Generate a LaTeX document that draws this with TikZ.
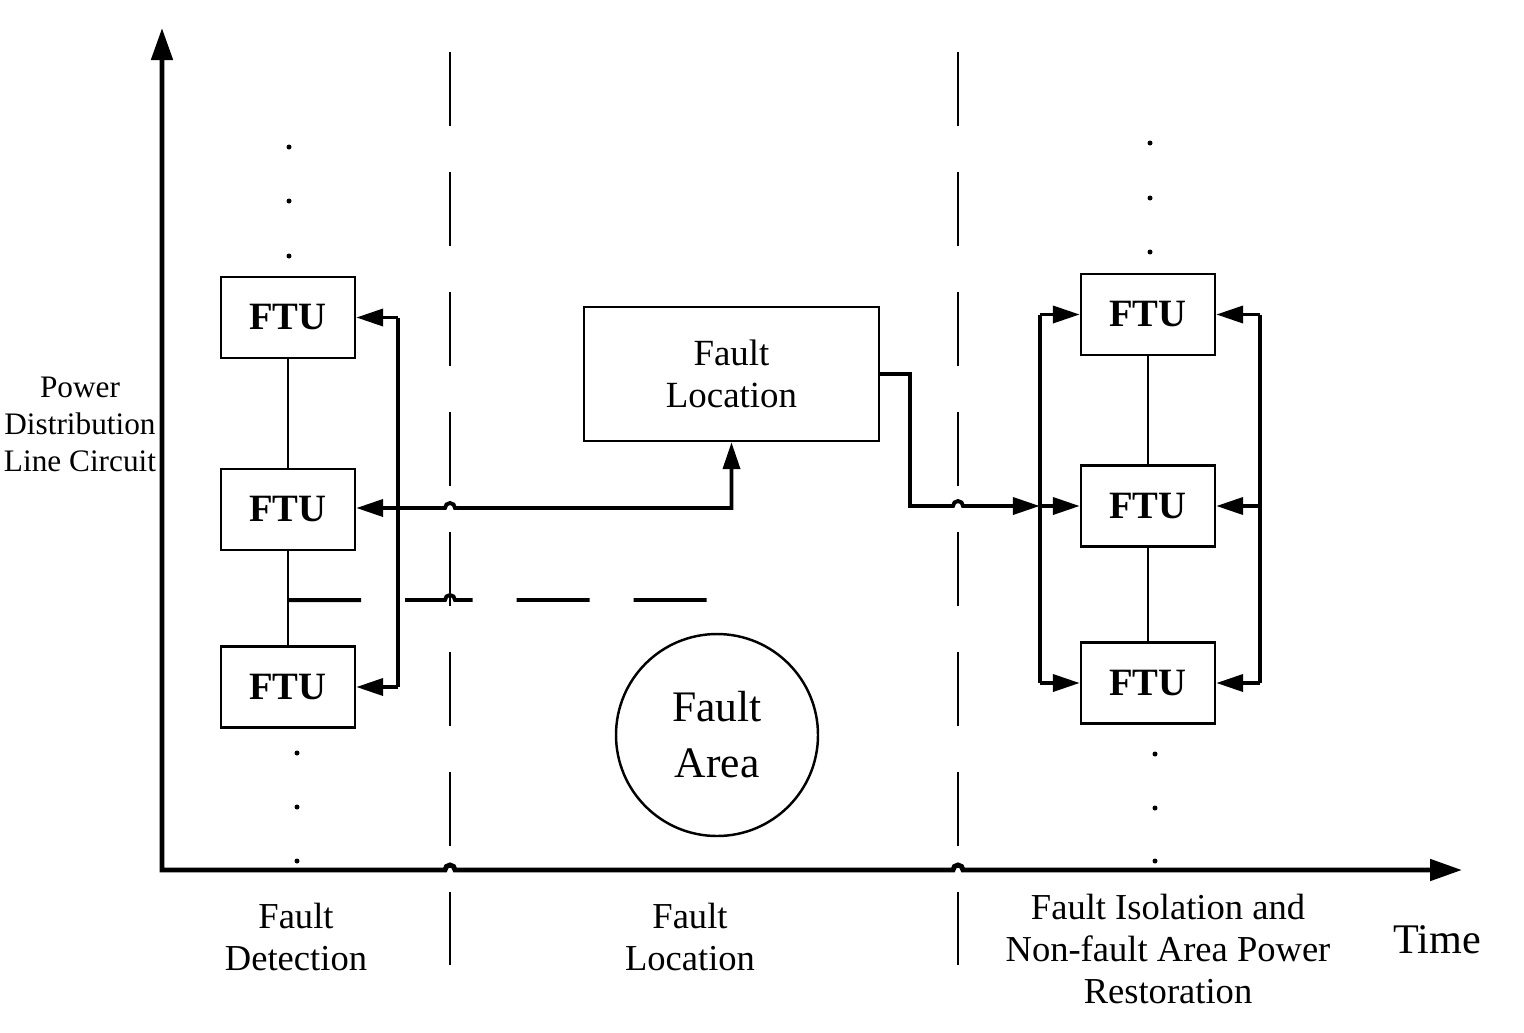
\documentclass[tikz,border=0pt]{standalone}
\usepackage{fontspec}
\setmainfont{Liberation Serif}
\usepackage{tikz}
\usetikzlibrary{arrows.meta, positioning, calc}
\tikzset{
  ftu/.style={rectangle, draw, line width=0.7pt, minimum width=1.34cm, minimum height=0.81cm, inner sep=0pt, font=\fontsize{11}{13}\selectfont\bfseries},
  locbox/.style={rectangle, draw, line width=0.7pt, minimum width=2.95cm, minimum height=1.34cm, align=center, font=\fontsize{10.5}{12}\selectfont},
  areacircle/.style={circle, draw, line width=0.7pt, minimum size=2.02cm, inner sep=0pt, align=center, font=\fontsize{12.4}{15.9}\selectfont},
  label/.style={align=center, inner sep=0pt, font=\fontsize{10.4}{11.95}\selectfont},
  axis/.style={{Triangle[length=0.32cm,width=0.21cm]}-{Triangle[length=0.32cm,width=0.21cm]}, line width=1.4pt},
  arrow/.style={-{Triangle[length=0.27cm,width=0.17cm]}, line width=1.1pt},
  line/.style={line width=1.1pt},
  link/.style={line width=0.6pt},
  phase/.style={line width=0.7pt, dash pattern=on 0.74cm off 0.46cm}
}

\begin{document}
\begin{tikzpicture}
  \useasboundingbox (0,0) rectangle (15.24,10.32);

  % Axes
  \coordinate (O) at (1.62,1.62);
  \draw[axis] (1.62,10.04) -- (O) -- (4.45,1.62) arc[start angle=180, end angle=0, radius=0.05]
    -- (9.53,1.62) arc[start angle=180, end angle=0, radius=0.05] -- (14.62,1.62);
  \node[label, font=\fontsize{8.9}{10.5}\selectfont] (yname) at (0.80,6.08) {Power\\Distribution\\Line Circuit};
  \node[label, font=\fontsize{12}{14}\selectfont] (xname) at (14.37,0.92) {Time};

  % Stage borders
  \draw[phase] (4.50,9.80) -- (4.50,0.67);
  \draw[phase] (9.58,9.80) -- (9.58,0.67);
  \node[label] (detect) at (2.96,0.95) {Fault\\Detection};
  \node[label] (locate) at (6.90,0.95) {Fault\\Location};
  \node[label] (restore) at (11.68,0.83) {Fault Isolation and\\Non-fault Area Power\\Restoration};

  % Left FTUs
  \node[ftu] (ftuL1) at (2.88,7.145) {FTU};
  \node[ftu] (ftuL2) at (2.88,5.225) {FTU};
  \node[ftu] (ftuL3) at (2.88,3.45) {FTU};
  \draw[link] (ftuL1) -- (ftuL2);
  \draw[link] (ftuL2) -- (ftuL3);
  \foreach \y in {8.85,8.31,7.76} \fill (2.89,\y) circle (0.025);
  \foreach \y in {2.79,2.25,1.71} \fill (2.97,\y) circle (0.025);

  % Fault location and fault area
  \node[locbox] (loc) at (7.315,6.58) {Fault\\Location};
  \node[areacircle] (area) at (7.17,2.97) {Fault\\Area};

  % Detection loop
  \coordinate (topL) at ($(ftuL1.east)+(0.42,0)$);
  \coordinate (jL) at ($(ftuL2.east)+(0.42,0.015)$);
  \coordinate (botL) at ($(ftuL3.east)+(0.42,0)$);
  \draw[line] (topL) -- (botL);
  \draw[arrow] (topL) -- (ftuL1.east);
  \draw[arrow] (jL) -- (ftuL2.east |- jL);
  \draw[arrow] (botL) -- (ftuL3.east);
  \draw[arrow] (jL) -- (4.45,5.24) arc[start angle=180, end angle=0, radius=0.05] -- (loc.south |- jL) -- (loc.south);

  % Fault boundary
  \coordinate (cut) at ($(ftuL2.south)!0.52!(ftuL3.north)$);
  \draw[line, dash pattern=on 0.73cm off 0.44cm] (cut) -- (4.45,4.32) arc[start angle=180, end angle=0, radius=0.05] -- (7.12,4.32);

  % Right FTUs
  \node[ftu] (ftuR1) at (11.48,7.175) {FTU};
  \node[ftu] (ftuR2) at (11.48,5.26) {FTU};
  \node[ftu] (ftuR3) at (11.48,3.49) {FTU};
  \draw[link] (ftuR1) -- (ftuR2);
  \draw[link] (ftuR2) -- (ftuR3);
  \foreach \y in {8.89,8.34,7.80} \fill (11.50,\y) circle (0.025);
  \foreach \y in {2.78,2.24,1.71} \fill (11.55,\y) circle (0.025);

  % Isolation and restoration
  \coordinate (topR) at ($(ftuR1.west)+(-0.40,0)$);
  \coordinate (jR) at ($(ftuR2.west)+(-0.40,0)$);
  \coordinate (botR) at ($(ftuR3.west)+(-0.40,0)$);
  \draw[arrow] (loc.east) -- (9.10,6.58) -- (9.10,5.26) -- (9.53,5.26) arc[start angle=180, end angle=0, radius=0.05] -- (jR);
  \draw[line] (topR) -- (botR);
  \draw[arrow] (topR) -- (ftuR1.west);
  \draw[arrow] (jR) -- (ftuR2.west);
  \draw[arrow] (botR) -- (ftuR3.west);

  \coordinate (topF) at ($(ftuR1.east)+(0.44,0)$);
  \coordinate (jF) at ($(ftuR2.east)+(0.44,0)$);
  \coordinate (botF) at ($(ftuR3.east)+(0.44,0)$);
  \draw[line] (topF) -- (botF);
  \draw[arrow] (topF) -- (ftuR1.east);
  \draw[arrow] (jF) -- (ftuR2.east);
  \draw[arrow] (botF) -- (ftuR3.east);
\end{tikzpicture}
\end{document}
